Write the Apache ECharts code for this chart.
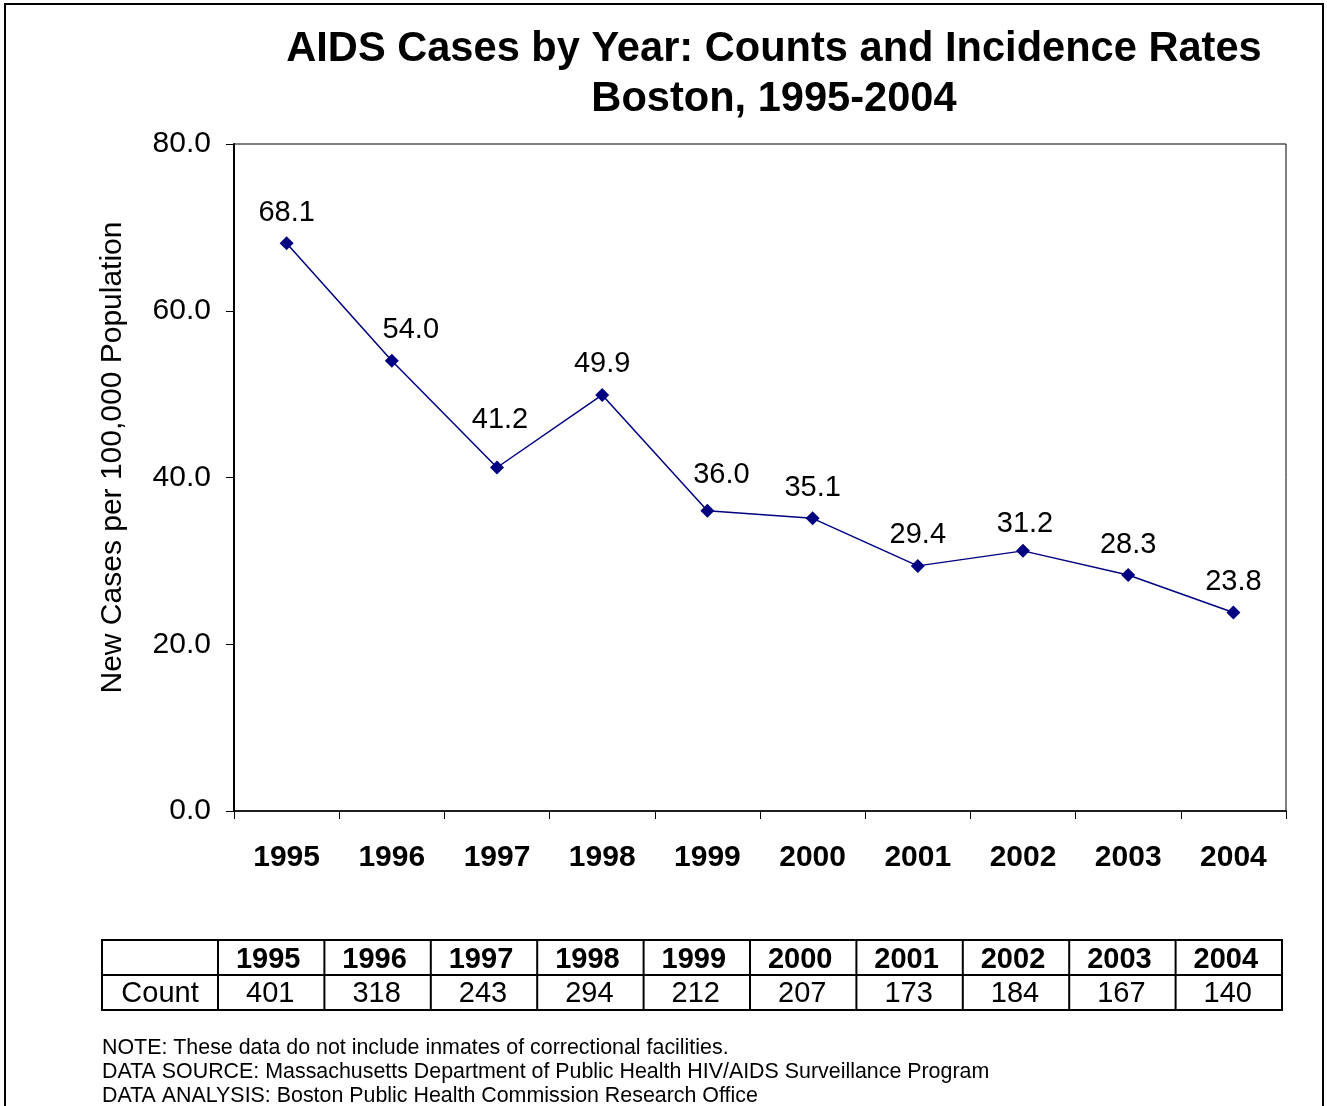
<!DOCTYPE html>
<html>
<head>
<meta charset="utf-8">
<script src="https://cdn.jsdelivr.net/npm/echarts@6/dist/echarts.min.js"></script>
<style>
html,body{margin:0;padding:0;background:#fff;}
#main{width:1327px;height:1106px;}
</style>
</head>
<body>
<div id="main"></div>
<script>
const years = ['1995','1996','1997','1998','1999','2000','2001','2002','2003','2004'];
const rates = [68.1, 54.0, 41.2, 49.9, 36.0, 35.1, 29.4, 31.2, 28.3, 23.8];
const counts = [401, 318, 243, 294, 212, 207, 173, 184, 167, 140];
const yTicks = [0, 20, 40, 60, 80];
const titleLines = ['AIDS Cases by Year: Counts and Incidence Rates', 'Boston, 1995-2004'];
const yAxisName = 'New Cases per 100,000 Population';
const rowLabel = 'Count';
const notes = [
  'NOTE: These data do not include inmates of correctional facilities.',
  'DATA SOURCE: Massachusetts Department of Public Health HIV/AIDS Surveillance Program',
  'DATA ANALYSIS: Boston Public Health Commission Research Office'
];

// label nudges (style only, pixels) keyed by category
const labelNudges = {'1996': [19, 0], '1997': [3, -17], '1999': [14, -5], '2002': [2, 4]};

const FONT = '"Liberation Sans", Arial, sans-serif';
const chart = echarts.init(document.getElementById('main'), null, {renderer: 'canvas'});

// Table layout
const tLeft = 102, tFirstW = 116, tRight = 1282, tTop = 940, rowH = 35;
const colW = (tRight - tLeft - tFirstW) / years.length;
const graphics = [];
graphics.push({type: 'rect', shape: {x: 5, y: 4, width: 1318, height: 1120},
  style: {fill: 'none', stroke: '#000', lineWidth: 2}, silent: true});
graphics.push({type: 'rect', shape: {x: tLeft, y: tTop, width: tRight - tLeft, height: rowH * 2},
  style: {fill: 'none', stroke: '#000', lineWidth: 2}});
graphics.push({type: 'line', shape: {x1: tLeft, y1: tTop + rowH, x2: tRight, y2: tTop + rowH},
  style: {stroke: '#000', lineWidth: 2}});
for (let i = 0; i < years.length; i++) {
  const x0 = tLeft + tFirstW + i * colW;
  graphics.push({type: 'line', shape: {x1: x0, y1: tTop, x2: x0, y2: tTop + rowH * 2},
    style: {stroke: '#000', lineWidth: 2}});
  graphics.push({type: 'text', x: x0 + colW / 2 - 3, y: tTop + rowH / 2 + 2,
    style: {text: years[i], font: 'bold 29px ' + FONT, fill: '#000', align: 'center', verticalAlign: 'middle'}});
  graphics.push({type: 'text', x: x0 + colW / 2 - 1, y: tTop + rowH * 1.5 + 1,
    style: {text: String(counts[i]), font: '29px ' + FONT, fill: '#000', align: 'center', verticalAlign: 'middle'}});
}
graphics.push({type: 'text', x: tLeft + tFirstW / 2, y: tTop + rowH * 1.5 + 1,
  style: {text: rowLabel, font: '29px ' + FONT, fill: '#000', align: 'center', verticalAlign: 'middle'}});
notes.forEach((n, i) => {
  graphics.push({type: 'text', x: tLeft, y: 1048 + i * 24,
    style: {text: n, font: '21.4px ' + FONT, fill: '#000', align: 'left', verticalAlign: 'middle'}});
});

const seriesData = rates.map((v, i) => {
  const nudge = labelNudges[years[i]];
  return nudge ? {value: v, label: {offset: nudge}} : v;
});

const option = {
  backgroundColor: '#fff',
  animation: false,
  title: {
    text: titleLines.join('\n'),
    left: 769,
    top: 20,
    textAlign: 'center',
    textStyle: {fontFamily: FONT, fontWeight: 'bold', fontSize: 41.6, lineHeight: 50, color: '#000'}
  },
  grid: {left: 234, top: 144, width: 1052, height: 667, show: true, borderColor: '#000', borderWidth: 1, backgroundColor: 'transparent'},
  xAxis: {
    type: 'category',
    data: years,
    boundaryGap: true,
    axisLine: {lineStyle: {color: '#000', width: 1.5}},
    axisTick: {show: true, length: 8, inside: false, lineStyle: {color: '#000'}},
    axisLabel: {margin: 32, color: '#000', fontFamily: FONT, fontWeight: 'bold', fontSize: 30},
    splitLine: {show: false}
  },
  yAxis: {
    type: 'value',
    min: yTicks[0],
    max: yTicks[yTicks.length - 1],
    interval: yTicks[1] - yTicks[0],
    name: yAxisName,
    nameLocation: 'middle',
    nameRotate: 90,
    nameGap: 106,
    nameTextStyle: {fontFamily: FONT, fontSize: 30, color: '#000', padding: [0, 0, 0, 40]},
    axisLine: {show: true, lineStyle: {color: '#000', width: 2}},
    axisTick: {show: true, length: 8, lineStyle: {color: '#000'}},
    axisLabel: {margin: 23, color: '#000', fontFamily: FONT, fontSize: 30, formatter: v => v.toFixed(1)},
    splitLine: {show: false}
  },
  series: [{
    type: 'line',
    data: seriesData,
    symbol: 'diamond',
    symbolSize: 14,
    lineStyle: {color: '#000080', width: 1.5},
    itemStyle: {color: '#000080'},
    label: {show: true, position: 'top', distance: 9, color: '#000', fontFamily: FONT, fontSize: 29,
      formatter: p => Number(p.value).toFixed(1)}
  }],
  graphic: graphics
};
chart.setOption(option);
</script>
</body>
</html>
